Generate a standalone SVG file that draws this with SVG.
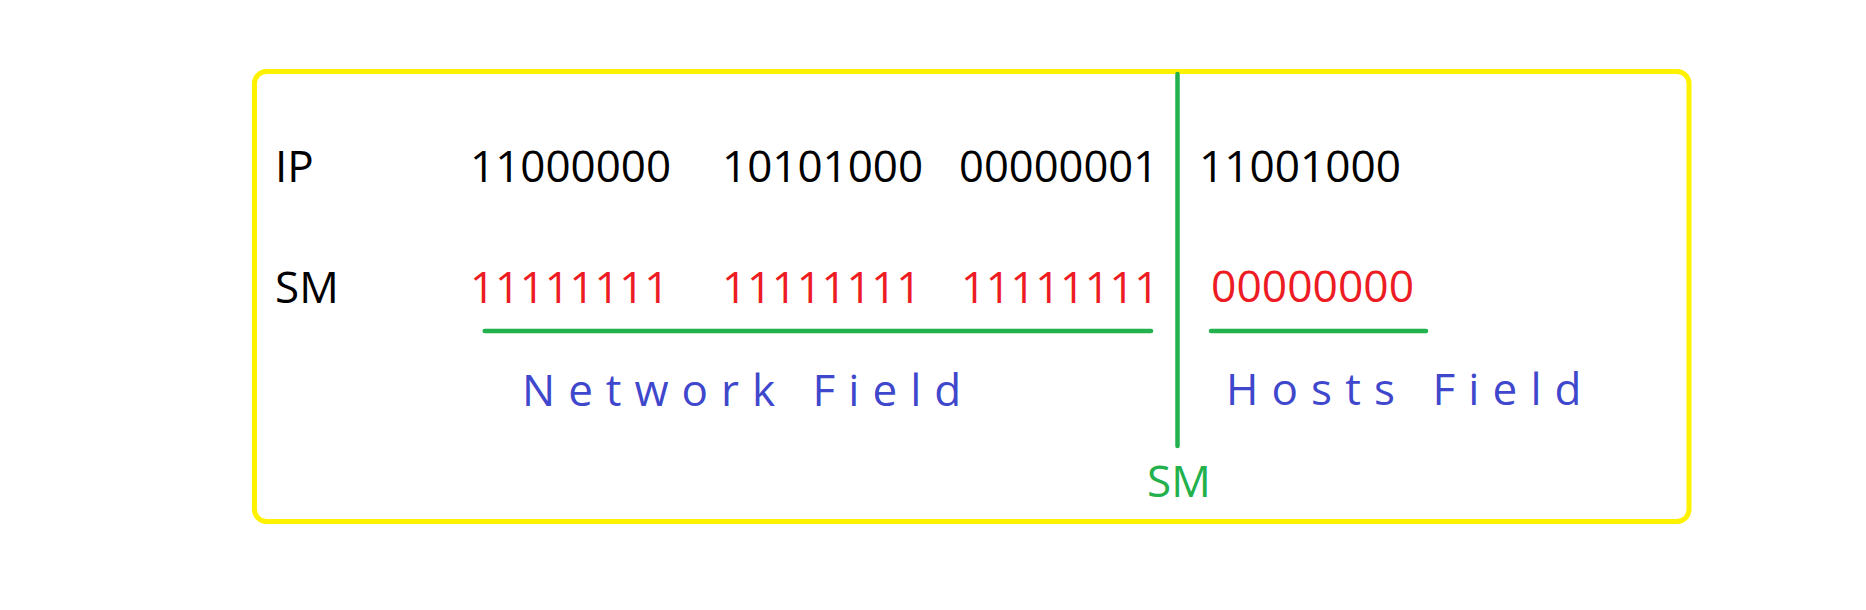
<svg xmlns="http://www.w3.org/2000/svg" width="1866" height="610" viewBox="0 0 1866 610">
<style>
  text { font-family: "Open Sans", "Noto Sans", "Liberation Sans", sans-serif; font-size: 44px; }
  .ip { fill: #000000; }
  .sm { fill: #ED1C24; }
  .lbl { fill: #000000; }
  .field { fill: #3F48CC; }
  .smg { fill: #22B14C; }
  .gl { stroke: #22B14C; stroke-width: 4.5; stroke-linecap: round; fill: none; }
</style>
<rect width="1866" height="610" fill="#ffffff"/>
<g id="frame">
  <rect x="254.5" y="71.5" width="1434.5" height="450" rx="12" ry="12" fill="none" stroke="#FFF200" stroke-width="5"/>
</g>
<g id="row-labels">
  <text class="lbl" x="275" y="182">IP</text>
  <text class="lbl" x="275" y="303">SM</text>
</g>
<g id="ip-row">
  <text class="ip" x="470" y="182" textLength="201" lengthAdjust="spacingAndGlyphs">11000000</text>
  <text class="ip" x="722" y="182" textLength="201" lengthAdjust="spacingAndGlyphs">10101000</text>
  <text class="ip" x="959" y="182" textLength="199" lengthAdjust="spacingAndGlyphs">00000001</text>
  <text class="ip" x="1199" y="182" textLength="202" lengthAdjust="spacingAndGlyphs">11001000</text>
</g>
<g id="sm-row">
  <text class="sm" x="470" y="303" textLength="199" lengthAdjust="spacingAndGlyphs">11111111</text>
  <text class="sm" x="722" y="303" textLength="199" lengthAdjust="spacingAndGlyphs">11111111</text>
  <text class="sm" x="961" y="303" textLength="198" lengthAdjust="spacingAndGlyphs">11111111</text>
  <text class="sm" x="1211" y="302" textLength="203" lengthAdjust="spacingAndGlyphs">00000000</text>
</g>
<g id="connectors">
  <line class="gl" x1="1177.5" y1="74" x2="1177.5" y2="446"/>
  <line class="gl" x1="484.7" y1="331" x2="1151" y2="331"/>
  <line class="gl" x1="1211" y1="331" x2="1426" y2="331"/>
</g>
<g id="network-field">
  <text class="field" x="522" y="406" letter-spacing="13">Network Field</text>
</g>
<g id="hosts-field">
  <text class="field" x="1226" y="404.5" letter-spacing="13.1">Hosts Field</text>
</g>
<g id="sm-marker">
  <text class="smg" x="1147" y="497">SM</text>
</g>
</svg>
